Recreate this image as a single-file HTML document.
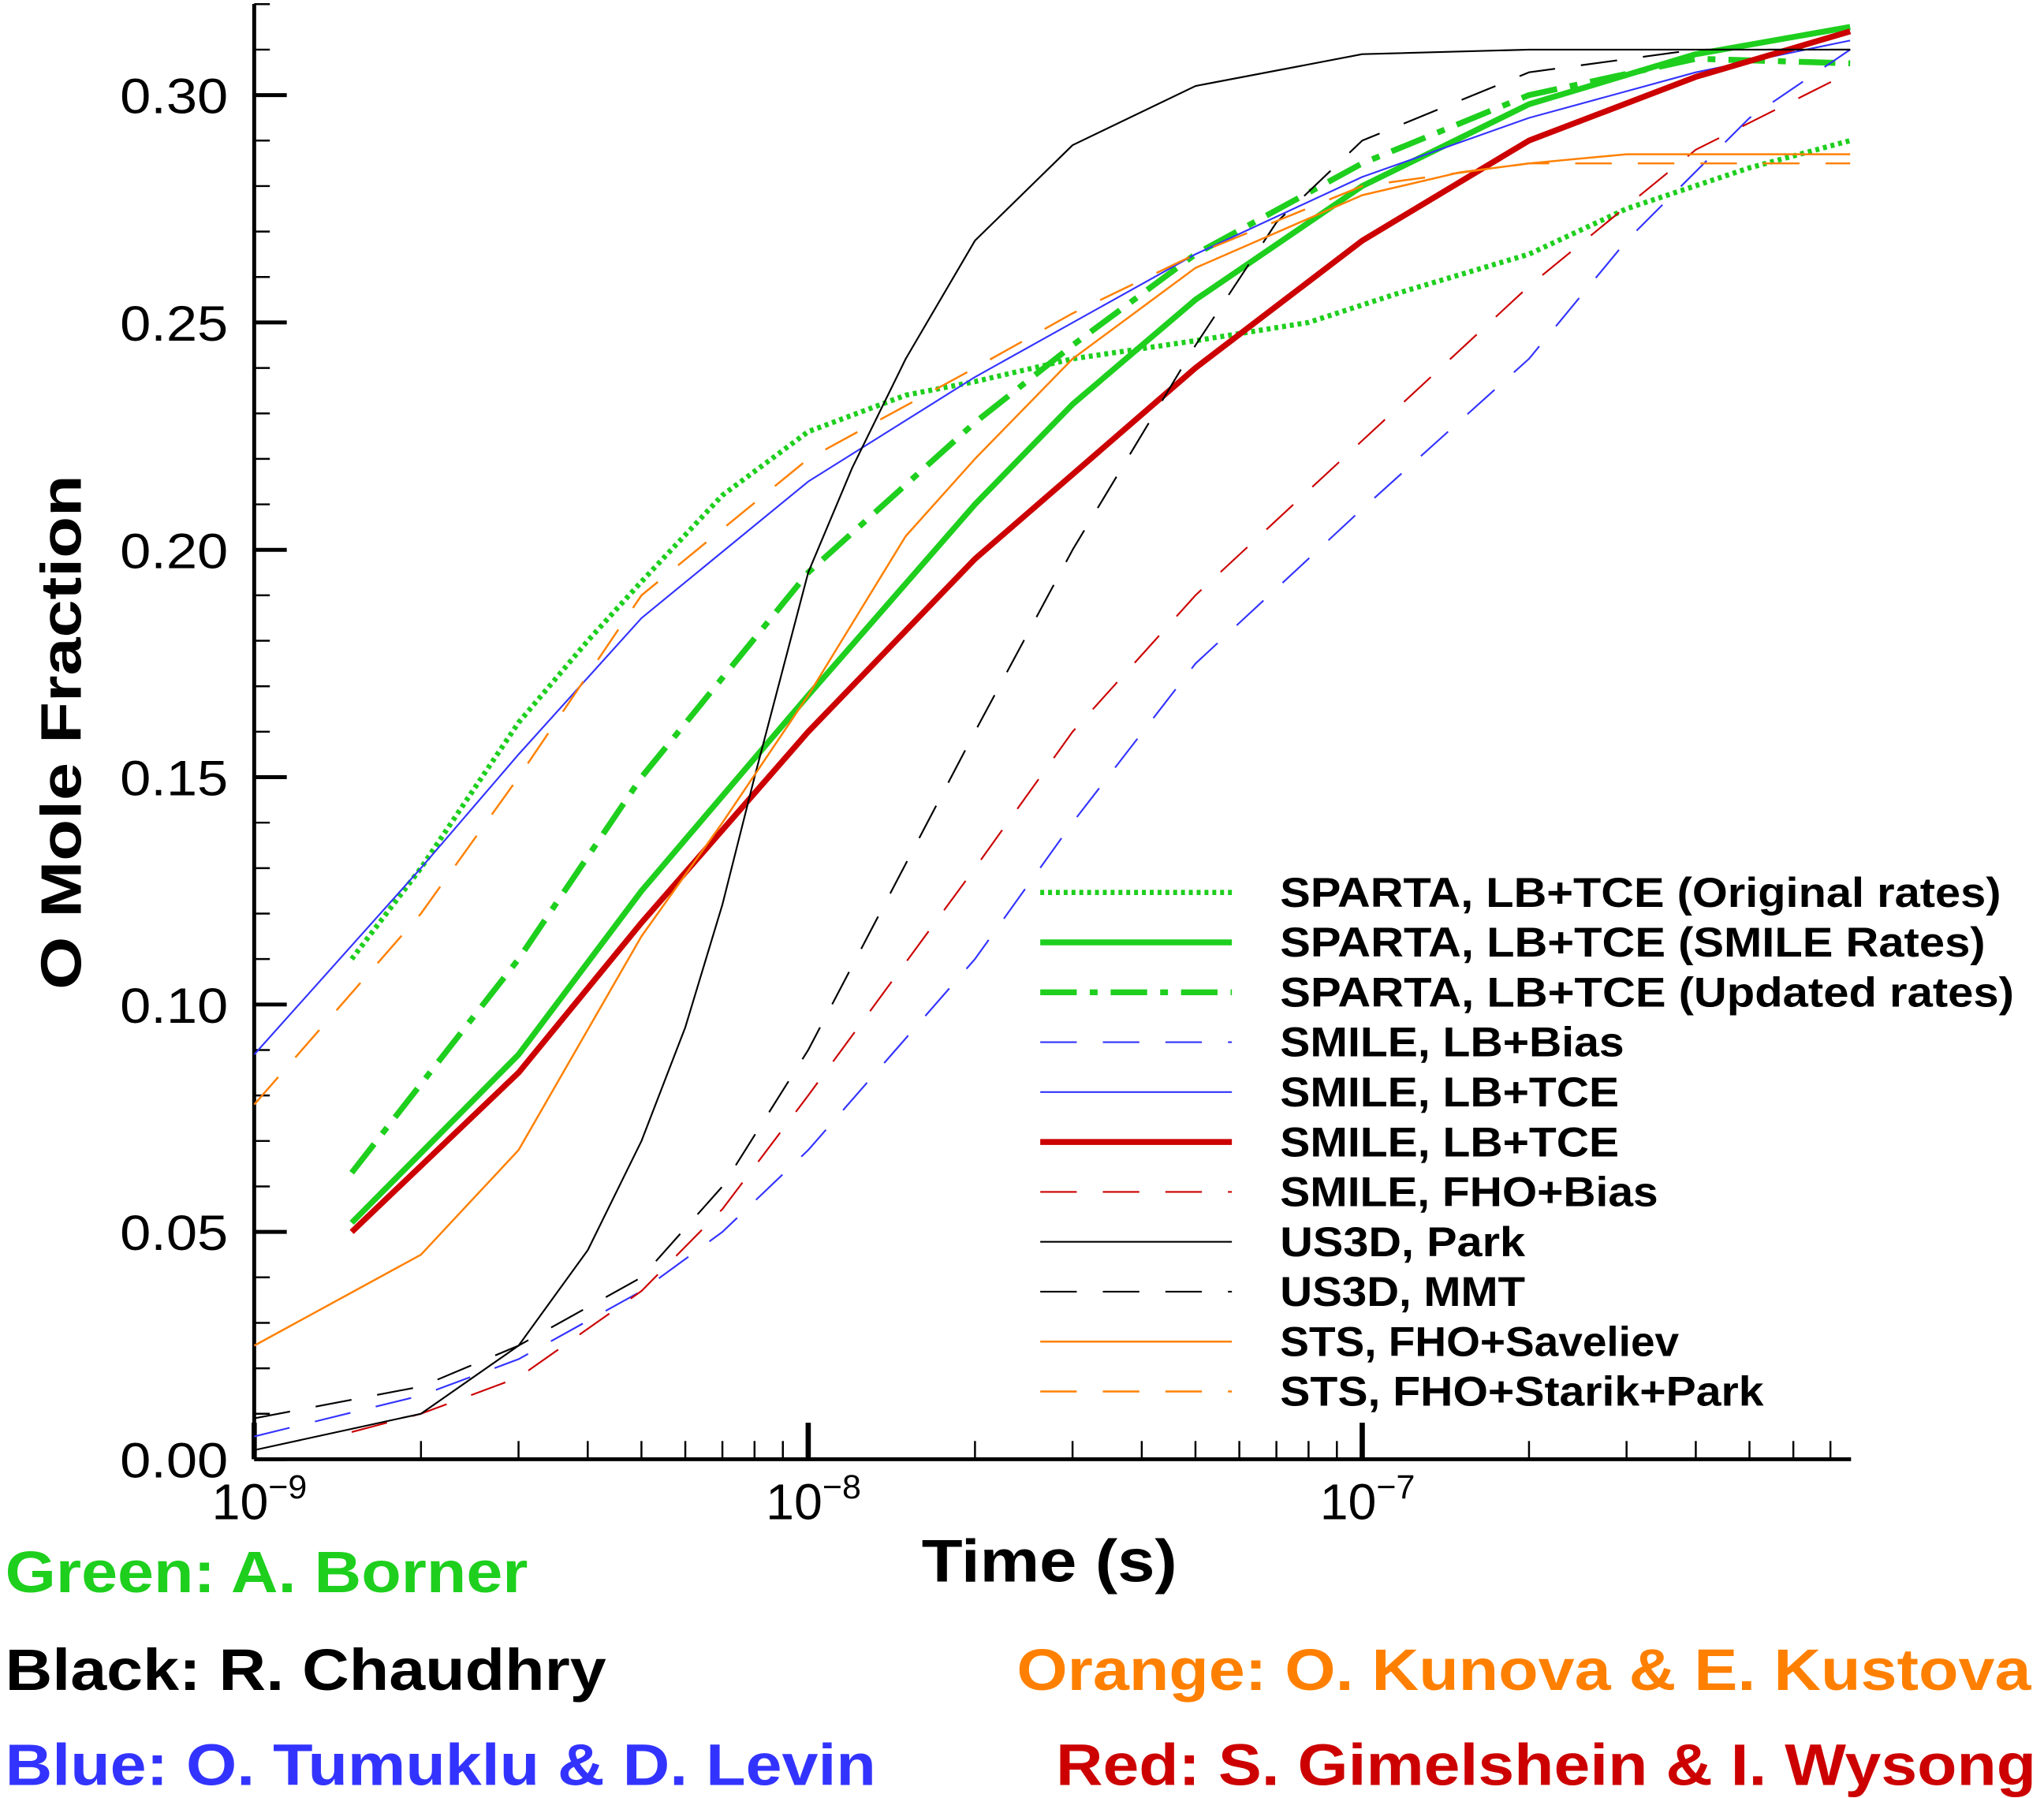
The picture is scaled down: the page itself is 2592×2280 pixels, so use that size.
<!DOCTYPE html>
<html><head><meta charset="utf-8"><style>
html,body{margin:0;padding:0;background:#fff;}
svg{display:block;font-family:"Liberation Sans",Arial,sans-serif;}
</style></head><body>
<svg id="chart" width="2592" height="2280" viewBox="0 0 1568 1380" preserveAspectRatio="none" xmlns="http://www.w3.org/2000/svg">
<g id="axes"></g>
<g id="series"></g>
<g id="legend"></g>
<text transform="translate(62,562) rotate(-90)" text-anchor="middle" font-size="44" font-weight="bold" textLength="395" lengthAdjust="spacingAndGlyphs">O Mole Fraction</text>
<text x="805" y="1214" text-anchor="middle" font-size="46" font-weight="bold" textLength="196" lengthAdjust="spacingAndGlyphs">Time (s)</text>
<text x="4" y="1222" font-size="45" font-weight="bold" fill="#1ecf1e" textLength="401" lengthAdjust="spacingAndGlyphs">Green: A. Borner</text>
<text x="4" y="1297" font-size="45" font-weight="bold" fill="#000" textLength="461" lengthAdjust="spacingAndGlyphs">Black: R. Chaudhry</text>
<text x="4" y="1370" font-size="45" font-weight="bold" fill="#3333ff" textLength="668" lengthAdjust="spacingAndGlyphs">Blue: O. Tumuklu &amp; D. Levin</text>
<text x="780" y="1297" font-size="45" font-weight="bold" fill="#ff8000" textLength="778" lengthAdjust="spacingAndGlyphs">Orange: O. Kunova &amp; E. Kustova</text>
<text x="810" y="1370" font-size="45" font-weight="bold" fill="#cc0000" textLength="752" lengthAdjust="spacingAndGlyphs">Red: S. Gimelshein &amp; I. Wysong</text>
</svg>
<script>
const yTicks=[0,0.05,0.10,0.15,0.20,0.25,0.30];
const yTickLabels=["0.00","0.05","0.10","0.15","0.20","0.25","0.30"];
const xDecades=[-9,-8,-7];
const spartaOrigT=[1.5e-9,2e-9,3e-9,4e-9,5e-9,7e-9,1e-8,1.5e-8,2e-8,3e-8,5e-8,8e-8,1.2e-7,2e-7,3e-7,5e-7,7.6e-7];
const spartaOrigV=[0.11,0.13,0.162,0.18,0.193,0.212,0.226,0.234,0.237,0.242,0.246,0.250,0.257,0.265,0.275,0.284,0.290];
const spartaSmileT=[1.5e-9,3e-9,5e-9,1e-8,2e-8,3e-8,5e-8,1e-7,2e-7,4e-7,7.6e-7];
const spartaSmileV=[0.052,0.089,0.125,0.168,0.21,0.232,0.255,0.28,0.298,0.309,0.315];
const spartaUpdT=[1.5e-9,3e-9,5e-9,1e-8,2e-8,3e-8,5e-8,1e-7,2e-7,4e-7,7.6e-7];
const spartaUpdV=[0.063,0.11,0.15,0.195,0.228,0.245,0.265,0.285,0.300,0.308,0.307];
const smileBiasT=[1e-9,2e-9,3e-9,5e-9,7e-9,1e-8,2e-8,3e-8,5e-8,1e-7,2e-7,3e-7,5e-7,7.6e-7];
const smileBiasV=[0.005,0.014,0.022,0.037,0.05,0.068,0.11,0.14,0.175,0.209,0.242,0.268,0.295,0.31];
const smileTceBT=[1e-9,2e-9,3e-9,5e-9,1e-8,2e-8,5e-8,1e-7,2e-7,4e-7,7.6e-7];
const smileTceBV=[0.089,0.13,0.155,0.185,0.215,0.238,0.265,0.282,0.295,0.305,0.312];
const smileTceRT=[1.5e-9,3e-9,5e-9,1e-8,2e-8,5e-8,1e-7,2e-7,4e-7,7.6e-7];
const smileTceRV=[0.05,0.085,0.118,0.16,0.198,0.24,0.268,0.29,0.304,0.314];
const smileFhoT=[1.5e-9,2e-9,3e-9,5e-9,7e-9,1e-8,2e-8,3e-8,5e-8,1e-7,2e-7,4e-7,7.6e-7];
const smileFhoV=[0.006,0.01,0.018,0.037,0.055,0.08,0.13,0.16,0.19,0.224,0.258,0.288,0.305];
const parkT=[1e-9,2e-9,3e-9,4e-9,5e-9,6e-9,7e-9,8e-9,1e-8,1.2e-8,1.5e-8,2e-8,3e-8,5e-8,1e-7,2e-7,7.6e-7];
const parkV=[0.002,0.01,0.025,0.046,0.07,0.095,0.122,0.15,0.195,0.218,0.242,0.268,0.289,0.302,0.309,0.31,0.31];
const mmtT=[1e-9,2e-9,3e-9,5e-9,7e-9,1e-8,2e-8,3e-8,5e-8,7e-8,1e-7,2e-7,4e-7,7.6e-7];
const mmtV=[0.009,0.016,0.025,0.04,0.06,0.09,0.16,0.2,0.245,0.272,0.29,0.305,0.31,0.31];
const savT=[1e-9,2e-9,3e-9,5e-9,7e-9,1e-8,1.5e-8,2e-8,3e-8,5e-8,1e-7,1.5e-7,2e-7,3e-7,7.6e-7];
const savV=[0.025,0.045,0.068,0.115,0.14,0.168,0.203,0.22,0.242,0.262,0.278,0.283,0.285,0.287,0.287];
const starT=[1e-9,2e-9,3e-9,5e-9,1e-8,2e-8,3e-8,5e-8,1e-7,2e-7,7.6e-7];
const starV=[0.078,0.12,0.15,0.19,0.22,0.24,0.252,0.265,0.28,0.285,0.285];
const legendLabels=["SPARTA, LB+TCE (Original rates)","SPARTA, LB+TCE (SMILE Rates)","SPARTA, LB+TCE (Updated rates)","SMILE, LB+Bias","SMILE, LB+TCE","SMILE, LB+TCE","SMILE, FHO+Bias","US3D, Park","US3D, MMT","STS, FHO+Saveliev","STS, FHO+Starik+Park"];

const NS="http://www.w3.org/2000/svg";
const L=195,R=1420,B=1120,T=3,DEC=425;
function xs(t){return L+(Math.log10(t)+9)*DEC;}
function ys(v){return B-v*3490;}
function mk(tag,attrs,parent){const e=document.createElementNS(NS,tag);for(const k in attrs)e.setAttribute(k,attrs[k]);parent.appendChild(e);return e;}
const ax=document.getElementById('axes');
let a=mk('line',{x1:L,y1:T,x2:L,y2:B,stroke:'#000','stroke-width':3},ax);


a=mk('line',{x1:L,y1:B,x2:R,y2:B,stroke:'#000','stroke-width':3},ax);


for(let i=0;i<=32;i++){const v=i/100;const y=ys(v);const maj=i%5===0;
 const tk=mk('line',{x1:L,y1:y,x2:L+(maj?25:12),y2:y,stroke:'#000','stroke-width':maj?3:1.5},ax);
 
 }
yTicks.forEach((v,i)=>{const t=mk('text',{x:92,y:ys(v)+14,'font-size':38,textLength:83,lengthAdjust:'spacingAndGlyphs'},ax);t.textContent=yTickLabels[i];
 
 });
for(let d=-9;d<=-7;d++){for(let m=1;m<=9;m++){const x=xs(m*Math.pow(10,d));if(x>R+0.5)continue;const maj=m===1;
 const tk=mk('line',{x1:x,y1:B,x2:x,y2:B-(maj?28:14),stroke:'#000','stroke-width':maj?4:1.5},ax);
 
 }}
xDecades.forEach(d=>{const x=xs(Math.pow(10,d));const t=mk('text',{x:x+4,y:1166,'text-anchor':'middle','font-size':39},ax);
 t.textContent='10';const s=mk('tspan',{dy:-16,'font-size':26},t);s.textContent=String(d).replace('-','\u2212');
 
 });
const styles=[
 ['#1ecf1e',4,'3 3',spartaOrigT,spartaOrigV,'sparta-original-rates'],
 ['#1ecf1e',4.5,'',spartaSmileT,spartaSmileV,'sparta-smile-rates'],
 ['#1ecf1e',4.5,'28 10 6 10',spartaUpdT,spartaUpdV,'sparta-updated-rates'],
 ['#3333ff',1.3,'28 20',smileBiasT,smileBiasV,'smile-lb-bias'],
 ['#3333ff',1.3,'',smileTceBT,smileTceBV,'smile-lb-tce-blue'],
 ['#cc0000',4.5,'',smileTceRT,smileTceRV,'smile-lb-tce-red'],
 ['#cc0000',1.3,'28 20',smileFhoT,smileFhoV,'smile-fho-bias'],
 ['#000',1.3,'',parkT,parkV,'us3d-park'],
 ['#000',1.3,'28 20',mmtT,mmtV,'us3d-mmt'],
 ['#ff8000',1.5,'',savT,savV,'sts-fho-saveliev'],
 ['#ff8000',1.5,'28 20',starT,starV,'sts-fho-starik-park']];
const sg=document.getElementById('series');
styles.forEach(s=>{let d='';s[3].forEach((t,i)=>{d+=(i?'L':'M')+Math.min(xs(t),R).toFixed(1)+','+ys(s[4][i]).toFixed(1);});
 const p=mk('path',{d:d,fill:'none',stroke:s[0],'stroke-width':s[1],'stroke-dasharray':s[2],'stroke-linejoin':'round'},sg);
 
 });
const lg=document.getElementById('legend');
const legendW=[553,541,563,264,260,260,290,188,188,306,371];
legendLabels.forEach((lab,i)=>{const y=685+i*38.3;const s=styles[i];
 const ln=mk('line',{x1:798,y1:y,x2:945,y2:y,stroke:s[0],'stroke-width':s[1],'stroke-dasharray':s[2]},lg);
 
 
 const t=mk('text',{x:982,y:y+11,'font-size':32,'font-weight':'bold',textLength:legendW[i],lengthAdjust:'spacingAndGlyphs'},lg);t.textContent=lab;
 
 });
</script>
</body></html>
